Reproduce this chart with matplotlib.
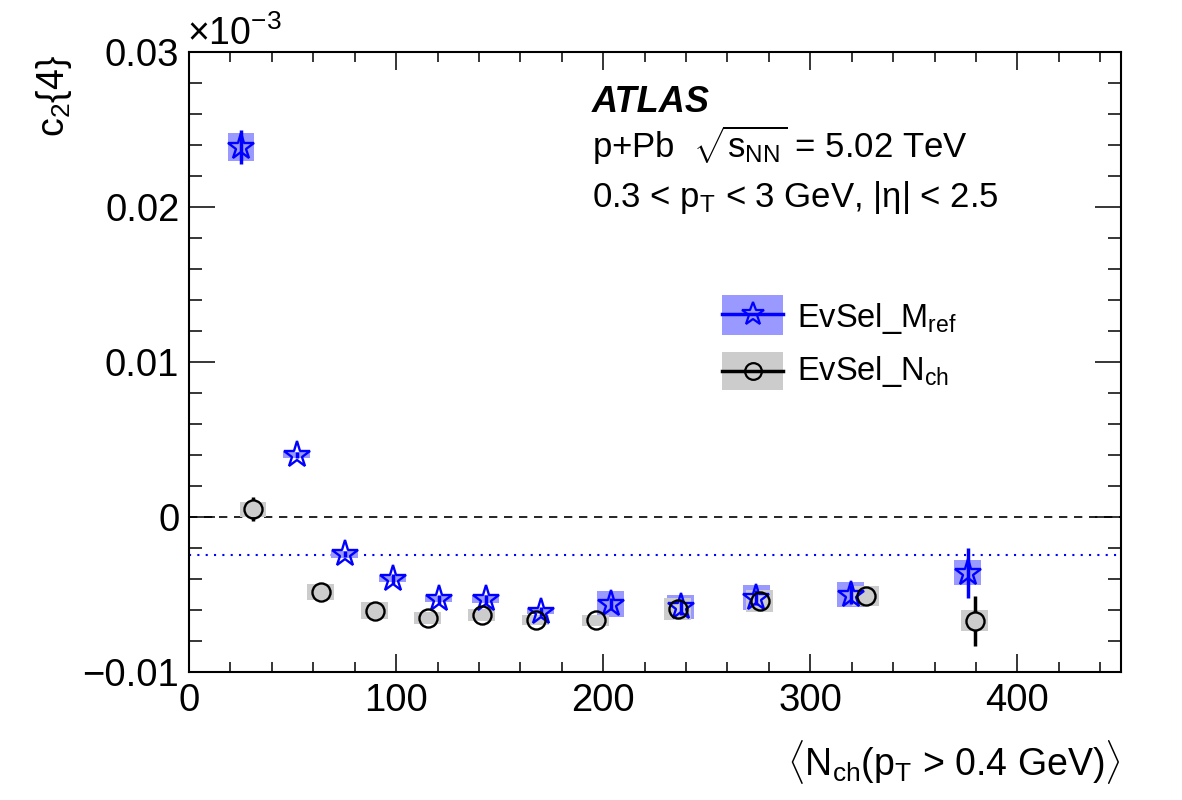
import matplotlib
matplotlib.use("Agg")
import matplotlib.pyplot as plt
from matplotlib.patches import Rectangle
from matplotlib.ticker import MultipleLocator, FixedLocator, FixedFormatter
import numpy as np

plt.rcParams['font.family'] = ['Liberation Sans', 'DejaVu Sans']
plt.rcParams['mathtext.fontset'] = 'custom'
plt.rcParams['mathtext.rm'] = 'Liberation Sans'
plt.rcParams['mathtext.it'] = 'Liberation Sans:italic'
plt.rcParams['mathtext.bf'] = 'Liberation Sans:bold'

# ---- data (displayed units, x10^-3) ----
mref_x = [25.1, 52.1, 75.3, 98.4, 120.6, 143.3, 169.8, 203.6, 237.4, 274.0, 319.4, 375.9]
mref_y = [0.0239, 0.0040, -0.0024, -0.0040, -0.0053, -0.0053, -0.0061, -0.0056, -0.0058, -0.0052, -0.0050, -0.0036]
mref_stat = [0.0011, 0.0002, 0.0002, 0.0003, 0.0003, 0.0003, 0.0003, 0.0004, 0.0005, 0.0005, 0.0006, 0.0016]
mref_syst = [0.0009, 0.0002, 0.00022, 0.00022, 0.0002, 0.00027, 0.00017, 0.00085, 0.0008, 0.00083, 0.00083, 0.0008]

nch_x = [30.9, 63.7, 89.7, 115.3, 141.4, 167.4, 196.4, 236.0, 275.5, 326.7, 379.3]
nch_y = [0.0005, -0.00484, -0.00606, -0.00652, -0.00632, -0.00665, -0.00665, -0.00594, -0.00542, -0.0051, -0.0067]
nch_stat = [0.00078, 0.0002, 0.0002, 0.0002, 0.0002, 0.0002, 0.0002, 0.0003, 0.0003, 0.0004, 0.0016]
nch_syst = [0.0005, 0.00052, 0.00055, 0.0004, 0.0004, 0.00032, 0.00035, 0.0007, 0.0007, 0.00067, 0.00067]

mref_ref_level = -0.00245
box_halfwidth = 6.5

xticks = [0, 100, 200, 300, 400]
yticks = [-0.01, 0.0, 0.01, 0.02, 0.03]
ytick_labels = ["\u22120.01", "0", "0.01", "0.02", "0.03"]

BLUE = "#0000ff"
BLUE_BOX = "#9999ff"
GRAY_BOX = "#cccccc"
DPI = 100
CIRCLE_MS = 13

fig = plt.figure(figsize=(11.82, 8.0), dpi=DPI)
ax = fig.add_axes([189/1182, 1-672/800, (1121-189)/1182, (672-52)/800])
ax.set_xlim(0, 450)
ax.set_ylim(-0.01, 0.03)

# reference lines
ax.axhline(0.0, color='black', lw=1.2, ls=(0, (5, 4)), zorder=1)
ax.axhline(mref_ref_level, color=BLUE, lw=1.5, ls=(0, (1, 3)), zorder=1)

# systematic boxes
for x, y, s in zip(mref_x, mref_y, mref_syst):
    ax.add_patch(Rectangle((x - box_halfwidth, y - s), 2*box_halfwidth, 2*s,
                           facecolor=BLUE_BOX, edgecolor='none', zorder=2))
for x, y, s in zip(nch_x, nch_y, nch_syst):
    ax.add_patch(Rectangle((x - box_halfwidth, y - s), 2*box_halfwidth, 2*s,
                           facecolor=GRAY_BOX, edgecolor='none', zorder=3))

# stat error bars + markers
ax.errorbar(mref_x, mref_y, yerr=mref_stat, fmt='none', ecolor=BLUE, elinewidth=2.5, capsize=0, zorder=4)
ax.plot(mref_x, mref_y, ls='none', marker='*', ms=20, mfc='none', mec=BLUE, mew=1.7, zorder=5)

# circle error bars drawn only outside the marker (ROOT style gap)
px_per_unit = ax.transData.transform((0, 1))[1] - ax.transData.transform((0, 0))[1]
r_data = (CIRCLE_MS / 2) * DPI / 72 / px_per_unit
for x, y, e in zip(nch_x, nch_y, nch_stat):
    if e > r_data:
        ax.vlines([x, x], [y + r_data, y - e], [y + e, y - r_data], colors='black', lw=2.5, zorder=6)
ax.plot(nch_x, nch_y, ls='none', marker='o', ms=CIRCLE_MS, mfc='none', mec='black', mew=1.7, zorder=7)

# axes styling
for sp in ax.spines.values():
    sp.set_linewidth(1.5)
ax.xaxis.set_major_locator(FixedLocator(xticks))
ax.xaxis.set_minor_locator(MultipleLocator(20))
ax.yaxis.set_major_locator(FixedLocator(yticks))
ax.yaxis.set_major_formatter(FixedFormatter(ytick_labels))
ax.yaxis.set_minor_locator(MultipleLocator(0.002))
ax.tick_params(axis='both', which='both', direction='in', top=True, right=True, width=1.1)
ax.tick_params(axis='y', which='major', length=19, pad=7, labelsize=27.5)
ax.tick_params(axis='y', which='minor', length=9.5)
ax.tick_params(axis='x', which='major', length=13, pad=8, labelsize=27.5)
ax.tick_params(axis='x', which='minor', length=7)

# axis titles
fig.text(74/1182, 1-55/800, r"c$_{2}${4}", rotation=90, ha='right', va='top', fontsize=27)
fig.text(1121/1182, 1-775/800, r"$\langle$N$_{\mathrm{ch}}$(p$_{\mathrm{T}}$ > 0.4 GeV)$\rangle$",
         ha='right', va='baseline', fontsize=27)
fig.text(187/1182, 1-45/800, r"$\times$10$^{\mathrm{-3}}$", ha='left', va='baseline', fontsize=27)

# ATLAS label
fig.text(592/1182, 1-112/800, "ATLAS", fontsize=26, fontweight='bold', fontstyle='italic', va='baseline')
fig.text(592/1182, 1-158/800, r"p+Pb  $\sqrt{\mathrm{s}_{\mathrm{NN}}}$ = 5.02 TeV", fontsize=25, va='baseline')
fig.text(592/1182, 1-207/800, r"0.3 < p$_{\mathrm{T}}$ < 3 GeV, |η| < 2.5", fontsize=25, va='baseline')

# legend (manual, in axes fraction)
def ax_fx(px):
    return (px - 189) / 932
def ax_fy(py):
    return (672 - py) / 620

leg_items = [
    (BLUE_BOX, BLUE, '*', 17, 295, 335, 314, 327, r"EvSel_M$_{\mathrm{ref}}$"),
    (GRAY_BOX, 'black', 'o', 12, 352, 390, 371, 380, r"EvSel_N$_{\mathrm{ch}}$"),
]
for fc, lc, mk, ms, ytop, ybot, yc, ybase, lab in leg_items:
    ax.add_patch(Rectangle((ax_fx(722), ax_fy(ybot)), ax_fx(783) - ax_fx(722), ax_fy(ytop) - ax_fy(ybot),
                           transform=ax.transAxes, facecolor=fc, edgecolor='none', zorder=8, clip_on=False))
    ax.plot([ax_fx(722), ax_fx(783)], [ax_fy(yc), ax_fy(yc)], transform=ax.transAxes, color=lc, lw=2.5,
            zorder=9, clip_on=False)
    ax.plot([ax_fx(752.5)], [ax_fy(yc)], transform=ax.transAxes, ls='none', marker=mk, ms=ms,
            mfc='none', mec=lc, mew=1.6, zorder=10, clip_on=False)
    ax.text(ax_fx(797), ax_fy(ybase), lab, transform=ax.transAxes, fontsize=23.5, va='baseline', ha='left')

fig.savefig("out.png", dpi=DPI)
